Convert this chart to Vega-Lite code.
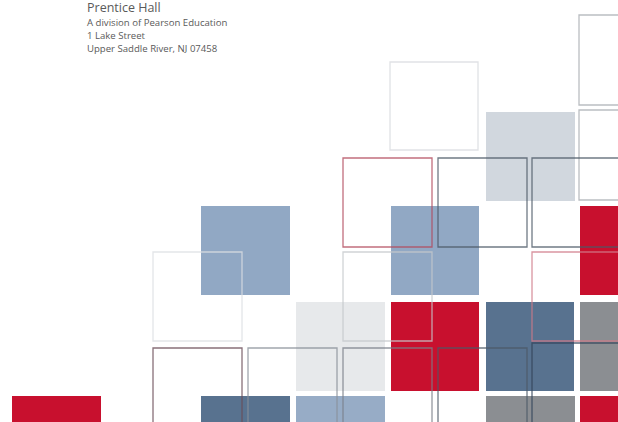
{
  "$schema": "https://vega.github.io/schema/vega-lite/v6.json",
  "width": 618,
  "height": 422,
  "padding": 0,
  "autosize": {"type": "fit", "contains": "padding"},
  "background": "white",
  "config": {"view": {"stroke": null}},
  "datasets": {
    "fills": [
      {"x": 12, "x2": 101, "y": 396, "y2": 485, "c": "#c8102e"},
      {"x": 201, "x2": 290, "y": 206, "y2": 295, "c": "#91a8c4"},
      {"x": 486, "x2": 575, "y": 112, "y2": 201, "c": "#d1d7de"},
      {"x": 391, "x2": 479, "y": 206, "y2": 295, "c": "#91a8c4"},
      {"x": 580, "x2": 669, "y": 206, "y2": 295, "c": "#c8102e"},
      {"x": 296, "x2": 385, "y": 302, "y2": 391, "c": "#e7e9eb"},
      {"x": 391, "x2": 479, "y": 302, "y2": 391, "c": "#c8102e"},
      {"x": 486, "x2": 574, "y": 302, "y2": 391, "c": "#58728f"},
      {"x": 580, "x2": 669, "y": 302, "y2": 391, "c": "#8b8e92"},
      {"x": 201, "x2": 290, "y": 396, "y2": 485, "c": "#58728f"},
      {"x": 296, "x2": 385, "y": 396, "y2": 485, "c": "#97acc6"},
      {"x": 486, "x2": 575, "y": 396, "y2": 485, "c": "#8b8e92"},
      {"x": 580, "x2": 669, "y": 396, "y2": 485, "c": "#c8102e"}
    ],
    "outlines": [
      {"x": 390, "x2": 478, "y": 62, "y2": 150, "c": "#d8dbde"},
      {"x": 579, "x2": 668, "y": 15, "y2": 105, "c": "#a9adb1"},
      {"x": 579, "x2": 668, "y": 110, "y2": 200, "c": "#a9adb1"},
      {"x": 343, "x2": 432, "y": 158, "y2": 247, "c": "#b24a5c"},
      {"x": 438, "x2": 527, "y": 158, "y2": 247, "c": "#4c5966"},
      {"x": 532, "x2": 621, "y": 158, "y2": 247, "c": "#4c5966"},
      {"x": 153, "x2": 242, "y": 252, "y2": 341, "c": "#dcdfe2"},
      {"x": 343, "x2": 432, "y": 252, "y2": 341, "c": "#c4c8cc"},
      {"x": 532, "x2": 621, "y": 252, "y2": 341, "c": "#d07a88"},
      {"x": 153, "x2": 242, "y": 348, "y2": 437, "c": "#6a4c58"},
      {"x": 248, "x2": 337, "y": 348, "y2": 437, "c": "#8a9098"},
      {"x": 343, "x2": 432, "y": 348, "y2": 437, "c": "#7a8088"},
      {"x": 438, "x2": 527, "y": 348, "y2": 437, "c": "#4c5966"},
      {"x": 532, "x2": 621, "y": 343, "y2": 432, "c": "#33445a"}
    ],
    "texts": [
      {"x": 87, "y": 12, "t": "Prentice Hall", "s": 12.5},
      {"x": 87, "y": 26, "t": "A division of Pearson Education", "s": 9.6},
      {"x": 87, "y": 39, "t": "1 Lake Street", "s": 9.6},
      {"x": 87, "y": 52, "t": "Upper Saddle River, NJ 07458", "s": 9.6}
    ]
  },
  "layer": [
    {
      "data": {"name": "fills"},
      "mark": {"type": "rect", "clip": true},
      "encoding": {
        "x": {"field": "x", "type": "quantitative", "scale": {"domain": [0, 618], "nice": false, "zero": false}, "axis": null},
        "x2": {"field": "x2"},
        "y": {"field": "y", "type": "quantitative", "scale": {"domain": [0, 422], "nice": false, "zero": false, "reverse": true}, "axis": null},
        "y2": {"field": "y2"},
        "fill": {"field": "c", "type": "nominal", "scale": null, "legend": null}
      }
    },
    {
      "data": {"name": "outlines"},
      "mark": {"type": "rect", "clip": true, "filled": false, "strokeWidth": 1.3, "strokeOpacity": 0.8},
      "encoding": {
        "x": {"field": "x", "type": "quantitative", "axis": null},
        "x2": {"field": "x2"},
        "y": {"field": "y", "type": "quantitative", "axis": null},
        "y2": {"field": "y2"},
        "stroke": {"field": "c", "type": "nominal", "scale": null, "legend": null}
      }
    },
    {
      "data": {"name": "texts"},
      "mark": {"type": "text", "align": "left", "baseline": "alphabetic", "font": "Open Sans", "color": "#5a5a5a"},
      "encoding": {
        "x": {"field": "x", "type": "quantitative", "axis": null},
        "y": {"field": "y", "type": "quantitative", "axis": null},
        "text": {"field": "t"},
        "size": {"field": "s", "type": "quantitative", "scale": null, "legend": null}
      }
    }
  ]
}
